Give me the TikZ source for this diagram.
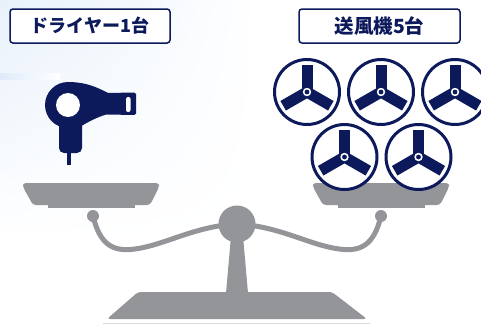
\documentclass[tikz,border=0pt]{standalone}
\usepackage{fontspec}
\usetikzlibrary{shadings}
\newfontfamily\jp{Noto Sans CJK JP}
\definecolor{navy}{RGB}{12,26,92}
\definecolor{scalegray}{RGB}{148,149,153}
\definecolor{bgblue}{RGB}{232,241,251}
\definecolor{stripblue}{RGB}{222,235,250}
\tikzset{
  labelbox/.style={draw=navy, line width=1.5pt, rounded corners=3pt, fill=white,
    text=navy, font=\jp\bfseries\fontsize{18}{18}\selectfont,
    minimum height=34pt, inner sep=0pt},
  metal/.style={fill=scalegray},
  beam/.style={draw=scalegray, line width=5pt, line cap=round},
  fan/.pic={
    \fill[white] (0,0) circle (33);
    \draw[navy, line width=3pt] (0,0) circle (32.5);
    \foreach \a in {0,120,240}{
      \fill[navy, rotate=\a] (-5.5,-27.5) rectangle (5.5,-3);
    }
    \fill[navy] (0,0) circle (6);
    \fill[white] (0,0) circle (4.2);
    \fill[navy] (0,0) circle (2.4);
  },
  pan/.pic={
    \fill[scalegray, rounded corners=3pt]
      (-68,0) -- (68,0) -- (68,4) -- (59,22) -- (-58,22) -- (-68,4) -- cycle;
    \fill[scalegray] (-43,21) rectangle (44,25);
  }
}
\begin{document}
\begin{tikzpicture}[x=1pt,y=-1pt]
\useasboundingbox (0,0) rectangle (481,324);

% soft blue wash in the upper left corner
\shade[upper left=bgblue, upper right=white, lower left=white, lower right=white]
  (0,0) rectangle (260,240);
\shade[left color=stripblue, right color=white] (0,73) rectangle (60,79);

% labels
\node[labelbox, minimum width=160pt] (lblDryer) at (90,26) {ドライヤー1台};
\node[labelbox, minimum width=161pt, font=\jp\bfseries\fontsize{19.5}{19.5}\selectfont]
  (lblFans) at (379.5,26) {送風機5台};

% stand
\coordinate (pivot) at (237,224);
\coordinate (endL) at (93,216);
\coordinate (endR) at (381,216);
\fill[metal] (231,236) -- (243,236) -- (248,293) -- (226,293) -- cycle;
\fill[metal, rounded corners=3pt] (138,292) -- (332,292) -- (367,319) -- (107,319) -- cycle;
\draw[black!15, line width=1pt] (103,323) -- (370,323);

% beam
\draw[beam] (endL) .. controls (100,245) and (113,252) .. (135,249)
  .. controls (165,245) and (195,226) .. (pivot);
\draw[beam] (endR) .. controls (374,245) and (361,252) .. (339,249)
  .. controls (309,245) and (279,226) .. (pivot);
\fill[metal] (pivot) circle (18.5);
\fill[metal] (endL) circle (6);
\fill[metal] (endR) circle (6);

% pans
\pic (panL) at (91,183) {pan};
\pic (panR) at (381,183) {pan};

% hair dryer
\begin{scope}[navy]
  \fill (68,82) .. controls (88,82) and (100,89) .. (108,93)
    -- (108,114) .. controls (97,117) and (88,122) .. (78,128)
    -- (68,128) -- cycle;
  \fill (68,105) circle (23);
  \fill[rounded corners=5pt] (59,112) -- (82,112) -- (82,153) -- (59,153) -- cycle;
  \fill[rounded corners=1.5pt] (106,93) -- (136,92.5) -- (136,115) -- (106,114.5) -- cycle;
  \fill (67,150) rectangle (70.5,165);
  \fill[white] (68,105) circle (12);
  \fill[white, rounded corners=2pt] (126,97) rectangle (130.5,112);
\end{scope}

% fans
\pic (fan1) at (307,92) {fan};
\pic (fan2) at (381,92) {fan};
\pic (fan3) at (455,92) {fan};
\pic (fan4) at (344.5,157) {fan};
\pic (fan5) at (418.5,157) {fan};
\end{tikzpicture}
\end{document}
